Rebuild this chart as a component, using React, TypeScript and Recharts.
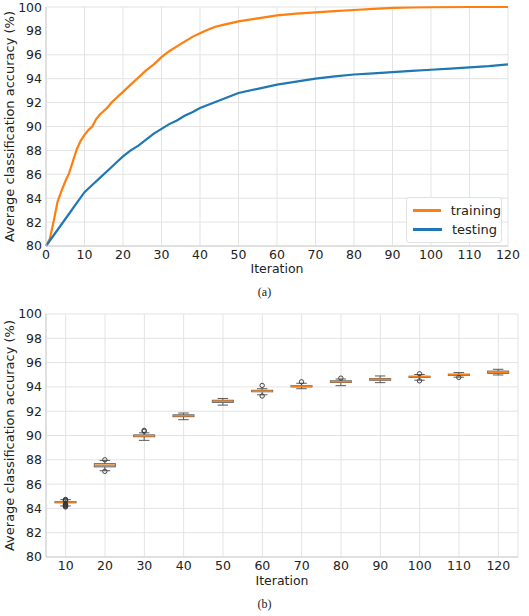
import { LineChart, Line, BarChart, Bar, XAxis, YAxis, CartesianGrid, Legend } from "recharts";

// (a) mean accuracy per iteration
const trainIter = [0, 1, 2, 3, 4, 5, 6, 7, 8, 9, 10, 11, 12, 13, 14, 15, 16, 17, 18, 19, 20, 22, 24, 26, 28, 30, 32, 34, 36, 38, 40, 42, 44, 46, 48, 50, 55, 60, 65, 70, 75, 80, 85, 90, 95, 100, 110, 120];
const trainAcc = [80, 80.6, 82.1, 83.7, 84.6, 85.4, 86.1, 87.1, 88.1, 88.8, 89.3, 89.7, 90.0, 90.6, 91.0, 91.3, 91.6, 92.0, 92.3, 92.6, 92.9, 93.5, 94.1, 94.7, 95.2, 95.8, 96.3, 96.7, 97.1, 97.5, 97.8, 98.1, 98.35, 98.5, 98.65, 98.8, 99.05, 99.3, 99.45, 99.55, 99.65, 99.75, 99.85, 99.92, 99.96, 99.98, 100, 100];

const testIter = [0, 2, 4, 6, 8, 10, 12, 14, 16, 18, 20, 22, 24, 26, 28, 30, 32, 34, 36, 38, 40, 42, 44, 46, 48, 50, 55, 60, 65, 70, 75, 80, 85, 90, 95, 100, 105, 110, 115, 120];
const testAcc = [80, 80.9, 81.8, 82.7, 83.6, 84.5, 85.1, 85.7, 86.3, 86.9, 87.5, 88.0, 88.4, 88.9, 89.4, 89.8, 90.2, 90.5, 90.9, 91.2, 91.55, 91.8, 92.05, 92.3, 92.55, 92.8, 93.15, 93.5, 93.75, 94.0, 94.2, 94.35, 94.45, 94.55, 94.65, 94.75, 94.85, 94.95, 95.05, 95.2];

const legendOrder = ["training", "testing"];

// (b) testing accuracy distribution
const boxIter = ["10", "20", "30", "40", "50", "60", "70", "80", "90", "100", "110", "120"];
const whiskerLow = [84.2, 87.1, 89.6, 91.3, 92.5, 93.35, 93.85, 94.1, 94.35, 94.55, 94.8, 94.98];
const q1 = [84.46, 87.42, 89.9, 91.55, 92.73, 93.6, 94.0, 94.37, 94.55, 94.78, 94.95, 95.12];
const median = [84.52, 87.55, 89.97, 91.63, 92.82, 93.65, 94.06, 94.43, 94.62, 94.83, 95.0, 95.2];
const q3 = [84.56, 87.68, 90.05, 91.7, 92.9, 93.72, 94.1, 94.5, 94.68, 94.88, 95.05, 95.3];
const whiskerHigh = [84.72, 87.95, 90.22, 91.85, 93.05, 93.85, 94.3, 94.65, 94.9, 95.02, 95.18, 95.45];
const outliers = [
  [84.12, 84.17, 84.22, 84.27, 84.32, 84.36, 84.64, 84.68, 84.74],
  [88.0, 87.05],
  [90.35, 90.42],
  [],
  [],
  [94.12, 93.25],
  [94.42],
  [94.72],
  [],
  [95.08, 94.5],
  [94.78],
  [],
];

const xTicks = [0, 10, 20, 30, 40, 50, 60, 70, 80, 90, 100, 110, 120];
const yTicks = [80, 82, 84, 86, 88, 90, 92, 94, 96, 98, 100];

const trainData = trainIter.map((x, i) => ({ x, y: trainAcc[i] }));
const testData = testIter.map((x, i) => ({ x, y: testAcc[i] }));
const boxData = boxIter.map((iteration, i) => ({
  iteration,
  range: [whiskerLow[i], whiskerHigh[i]],
  q1: q1[i],
  median: median[i],
  q3: q3[i],
  outliers: outliers[i],
}));

const FONT = "DejaVu Sans";
const gridColor = "#e3e3e3";
const frameColor = "#cfcfcf";
const tickStyle = { fontSize: 12.5, fill: "#222", fontFamily: FONT };

const YTitle = (props: any) => {
  const { viewBox } = props;
  const cx = 9;
  const cy = viewBox.y + viewBox.height / 2;
  return (
    <text x={cx} y={cy} transform={`rotate(-90 ${cx} ${cy})`} textAnchor="middle" dominantBaseline="central" fontSize={13} fill="#222" fontFamily={FONT}>
      Average classification accuracy (%)
    </text>
  );
};

const XTitle = (dy: number) => (props: any) => {
  const { viewBox } = props;
  return (
    <text x={viewBox.x + viewBox.width / 2} y={viewBox.y + dy} textAnchor="middle" dominantBaseline="central" fontSize={12.5} fill="#222" fontFamily={FONT}>
      Iteration
    </text>
  );
};

const LegendBox = (props: any) => {
  const items = [...(props.payload || [])].sort(
    (a: any, b: any) => legendOrder.indexOf(a.value) - legendOrder.indexOf(b.value)
  );
  return (
    <div style={{ border: "1px solid #e2e2e2", borderRadius: 3, background: "rgba(255,255,255,0.85)", padding: "3px 0 3px 6px", fontFamily: FONT, fontSize: 13, color: "#222" }}>
      {items.map((p: any) => (
        <div key={p.value} style={{ display: "flex", alignItems: "center", height: 19 }}>
          <span style={{ display: "inline-block", width: 29, height: 2.5, background: p.color, marginRight: 10 }} />
          <span>{p.value}</span>
        </div>
      ))}
    </div>
  );
};

const BoxShape = (props: any) => {
  const { x, y, width, height, payload } = props;
  const [lo, hi] = payload.range;
  const top = Math.min(y, y + height);
  const h = Math.abs(height);
  const k = h / (hi - lo);
  const py = (v: number) => top + (hi - v) * k;
  const cx = x + width / 2;
  const cap = width / 4;
  const edge = "#5a5a5a";
  return (
    <g>
      <line x1={cx} x2={cx} y1={py(hi)} y2={py(payload.q3)} stroke={edge} strokeWidth={1} />
      <line x1={cx} x2={cx} y1={py(payload.q1)} y2={py(lo)} stroke={edge} strokeWidth={1} />
      <line x1={cx - cap} x2={cx + cap} y1={py(hi)} y2={py(hi)} stroke={edge} strokeWidth={1} />
      <line x1={cx - cap} x2={cx + cap} y1={py(lo)} y2={py(lo)} stroke={edge} strokeWidth={1} />
      <rect x={x} y={py(payload.q3)} width={width} height={py(payload.q1) - py(payload.q3)} fill="#f2f2f2" stroke={edge} strokeWidth={1} />
      <line x1={x} x2={x + width} y1={py(payload.median)} y2={py(payload.median)} stroke="#ff7f0e" strokeWidth={1.5} />
      {payload.outliers.map((v: number, i: number) => (
        <circle key={i} cx={cx} cy={py(v)} r={2.2} fill="none" stroke="#333" strokeWidth={0.9} />
      ))}
    </g>
  );
};

export default function App() {
  return (
    <div style={{ position: "absolute", left: 0, top: 0, width: 529, height: 616, background: "#fff" }}>
      <div style={{ position: "absolute", left: 0, top: 0 }}>
        <LineChart width={529} height={280} margin={{ top: 7, right: 21, left: 0, bottom: 6 }}>
          <CartesianGrid stroke={gridColor} />
          <XAxis
            type="number"
            dataKey="x"
            domain={[0, 120]}
            ticks={xTicks}
            height={28}
            tickSize={2}
            tickMargin={2}
            tickLine={false}
            axisLine={{ stroke: frameColor }}
            tick={tickStyle}
            allowDuplicatedCategory={false}
            label={{ content: XTitle(22) }}
          />
          <YAxis
            domain={[80, 100]}
            ticks={yTicks}
            width={46}
            tickSize={2}
            tickMargin={2}
            tickLine={false}
            axisLine={{ stroke: frameColor }}
            tick={tickStyle}
            label={{ content: YTitle }}
          />
          <Legend
            layout="horizontal"
            verticalAlign="middle"
            align="center"
            content={<LegendBox />}
            wrapperStyle={{ left: 406, top: 197, width: 96, height: 42 }}
          />
          <Line data={trainData} dataKey="y" name="training" stroke="#ff7f0e" strokeWidth={2.2} dot={false} isAnimationActive={false} />
          <Line data={testData} dataKey="y" name="testing" stroke="#1f77b4" strokeWidth={2.2} dot={false} isAnimationActive={false} />
        </LineChart>
      </div>
      <div style={{ position: "absolute", left: 0, top: 285, width: 529, textAlign: "center", fontFamily: "Liberation Serif", fontSize: 12, color: "#222", paddingRight: 4 }}>
        (a)
      </div>
      <div style={{ position: "absolute", left: 0, top: 300 }}>
        <BarChart data={boxData} width={529} height={290} margin={{ top: 14, right: 11, left: 0, bottom: 3 }}>
          <CartesianGrid stroke={gridColor} />
          <XAxis
            dataKey="iteration"
            height={30}
            tickSize={2}
            tickMargin={2}
            tickLine={false}
            axisLine={{ stroke: frameColor }}
            tick={tickStyle}
            label={{ content: XTitle(23) }}
          />
          <YAxis
            domain={[80, 100]}
            ticks={yTicks}
            width={46}
            tickSize={2}
            tickMargin={2}
            tickLine={false}
            axisLine={{ stroke: frameColor }}
            tick={tickStyle}
            label={{ content: YTitle }}
          />
          <YAxis yAxisId="frame" orientation="right" width={0} tick={false} tickLine={false} axisLine={{ stroke: frameColor }} domain={[80, 100]} />
          <Bar dataKey="range" barSize={21} shape={<BoxShape />} isAnimationActive={false} />
        </BarChart>
      </div>
      <div style={{ position: "absolute", left: 0, top: 597, width: 529, textAlign: "center", fontFamily: "Liberation Serif", fontSize: 12, color: "#222", paddingRight: 4 }}>
        (b)
      </div>
    </div>
  );
}
